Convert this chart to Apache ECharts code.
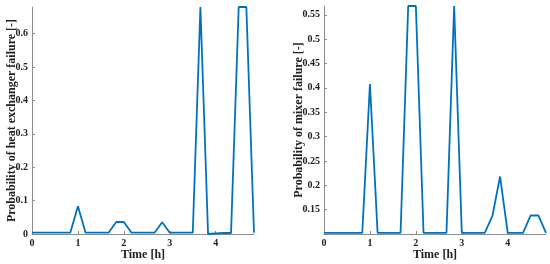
<!DOCTYPE html>
<html><head><meta charset="utf-8">
<script src="https://cdn.jsdelivr.net/npm/echarts@6/dist/echarts.min.js"></script>
<style>html,body{margin:0;padding:0;background:#fff}#c{width:550px;height:264px}</style>
</head><body><div id="c"></div>
<script>
const times = [0,0.1667,0.3333,0.5,0.6667,0.8333,1,1.1667,1.3333,1.5,1.6667,1.8333,2,2.1667,2.3333,2.5,2.6667,2.8333,3,3.1667,3.3333,3.5,3.6667,3.8333,4,4.1667,4.3333,4.5,4.6667,4.8333];
const heatExchanger = [0.004,0.004,0.004,0.004,0.004,0.004,0.083,0.004,0.004,0.004,0.004,0.036,0.036,0.004,0.004,0.004,0.004,0.035,0.004,0.004,0.004,0.004,0.68,0,0.002,0.003,0.003,0.68,0.68,0.004];
const mixer = [0.1025,0.1025,0.1025,0.1025,0.1025,0.1025,0.408,0.1025,0.1025,0.1025,0.1025,0.568,0.568,0.1025,0.1025,0.1025,0.1025,0.568,0.1025,0.1025,0.1025,0.1025,0.137,0.218,0.1025,0.1025,0.1025,0.138,0.138,0.1025];
const xTicks = [0,1,2,3,4];
const leftYTicks = [0,0.1,0.2,0.3,0.4,0.5,0.6];
const rightYTicks = [0.15,0.2,0.25,0.3,0.35,0.4,0.45,0.5,0.55];

const font = 'Liberation Serif';
const axisColor = '#8c8c8c';
const labelStyle = {color:'#222', fontFamily:font, fontWeight:'bold', fontSize:10};
function xAxis(gi){
  return {type:'value', gridIndex:gi, min:0, max:4.8333, interval:1,
    name:'Time [h]', nameLocation:'middle', nameGap:15, nameMoveOverlap:false,
    nameTextStyle:{color:'#222', fontFamily:font, fontWeight:'bold', fontSize:12},
    axisLine:{lineStyle:{color:axisColor, width:1}},
    axisTick:{inside:true, length:3, lineStyle:{color:axisColor}},
    axisLabel:Object.assign({margin:4, showMaxLabel:false, formatter:v=>xTicks.includes(Math.round(v*1000)/1000)?String(v):''}, labelStyle),
    splitLine:{show:false}};
}
function yAxis(gi, min, max, interval, name, ticks, nameGap){
  return {type:'value', gridIndex:gi, min:min, max:max, interval:interval,
    name:name, nameLocation:'middle', nameGap:nameGap, nameMoveOverlap:false,
    nameTextStyle:{color:'#222', fontFamily:font, fontWeight:'bold', fontSize:12},
    axisLine:{show:true, lineStyle:{color:axisColor, width:1}},
    axisTick:{inside:true, length:3, lineStyle:{color:axisColor}},
    axisLabel:Object.assign({margin:4, showMaxLabel:false, showMinLabel: min!==0 ? false : true,
      formatter:v=>{const r=Math.round(v*1000)/1000; return ticks.includes(r)?String(r):'';}}, labelStyle),
    splitLine:{show:false}};
}
const chart = echarts.init(document.getElementById('c'), null, {renderer:'canvas'});
chart.setOption({
  animation:false,
  grid:[{left:32, right:296, top:7, bottom:30, outerBoundsMode:'none'},{left:324, right:4, top:6, bottom:30, outerBoundsMode:'none'}],
  xAxis:[xAxis(0), xAxis(1)],
  yAxis:[yAxis(0,0,0.68,0.1,'Probability of heat exchanger failure [-]',leftYTicks,14),
         yAxis(1,0.1,0.568,0.05,'Probability of mixer failure [-]',rightYTicks,19)],
  series:[
    {type:'line', xAxisIndex:0, yAxisIndex:0, data:times.map((t,i)=>[t,heatExchanger[i]]), showSymbol:false, lineStyle:{color:'#0072BD', width:1.8}, itemStyle:{color:'#0072BD'}},
    {type:'line', xAxisIndex:1, yAxisIndex:1, data:times.map((t,i)=>[t,mixer[i]]), showSymbol:false, lineStyle:{color:'#0072BD', width:1.8}, itemStyle:{color:'#0072BD'}}
  ]
});
</script></body></html>
